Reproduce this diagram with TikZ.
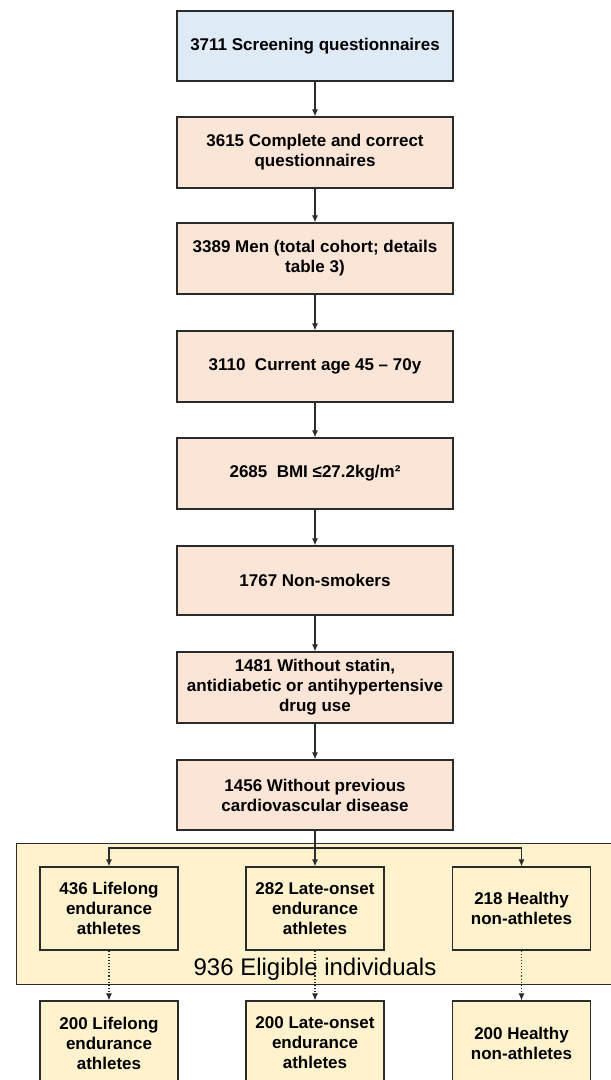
\documentclass[tikz,border=0pt]{standalone}
\usepackage{fontspec}
\setmainfont{Liberation Sans}
\usetikzlibrary{arrows.meta}
\definecolor{bluefill}{HTML}{DEEBF7}
\definecolor{peachfill}{HTML}{FBE5D6}
\definecolor{yellowfill}{HTML}{FFF2CC}
\definecolor{edge}{HTML}{2B2B2B}
\tikzset{
  box/.style={draw=edge, line width=1.2pt, align=center, inner sep=0pt,
    font=\fontsize{17}{20}\selectfont\bfseries, text=black},
  mainbox/.style={box, minimum width=276pt, fill=peachfill},
  smallbox/.style={box, minimum width=138pt, minimum height=83pt, fill=yellowfill},
  arr/.style={draw=edge, line width=1.1pt, -{Latex[length=7pt,width=6pt]}},
  dotarr/.style={draw=edge, line width=1.1pt, dotted, -{Latex[length=7pt,width=6pt]}},
  plain/.style={draw=edge, line width=1.1pt}
}
\begin{document}
\begin{tikzpicture}[x=1pt,y=-1pt]
\useasboundingbox (0,0) rectangle (611,1080);
\clip (0,0) rectangle (611,1080);
\fill[white] (0,0) rectangle (611,1080);
% group background
\node[draw=edge, line width=1.2pt, fill=yellowfill, minimum width=600pt, minimum height=141pt, anchor=north west, inner sep=0pt] (grp) at (16,843) {};
\node[font=\fontsize{24}{28}\selectfont, anchor=base, inner sep=0pt] (elig) at (315,975) {936 Eligible individuals};
% main chain
\node[mainbox, fill=bluefill, minimum height=70pt] (b1) at (315,46) {3711 Screening questionnaires};
\node[mainbox, minimum height=71pt] (b2) at (315,152.5) {3615 Complete and correct\\questionnaires};
\node[mainbox, minimum height=71pt] (b3) at (315,258.5) {3389 Men (total cohort; details\\table 3)};
\node[mainbox, minimum height=71pt] (b4) at (315,366.5) {3110\ \ Current age 45 – 70y};
\node[mainbox, minimum height=71pt] (b5) at (315,473.5) {2685\ \ BMI ≤27.2kg/m²};
\node[mainbox, minimum height=69pt] (b6) at (315,580.5) {1767 Non-smokers};
\node[mainbox, minimum height=71pt] (b7) at (315,687.5) {1481 Without statin,\\antidiabetic or antihypertensive\\drug use};
\node[mainbox, minimum height=70pt] (b8) at (315,795) {1456 Without previous\\cardiovascular disease};
% groups
\node[smallbox] (s1) at (109,908.5) {436 Lifelong\\endurance\\athletes};
\node[smallbox] (s2) at (315,908.5) {282 Late-onset\\endurance\\athletes};
\node[smallbox] (s3) at (521.5,908.5) {218 Healthy\\non-athletes};
% selected
\node[smallbox, minimum height=84pt] (t1) at (109,1043) {200 Lifelong\\endurance\\athletes};
\node[smallbox, minimum height=84pt] (t2) at (315,1043) {200 Late-onset\\endurance\\athletes};
\node[smallbox, minimum height=84pt] (t3) at (521.5,1043) {200 Healthy\\non-athletes};
% connectors
\draw[arr] (b1) -- (b2);
\draw[arr] (b2) -- (b3);
\draw[arr] (b3) -- (b4);
\draw[arr] (b4) -- (b5);
\draw[arr] (b5) -- (b6);
\draw[arr] (b6) -- (b7);
\draw[arr] (b7) -- (b8);
\coordinate (j) at (315,848);
\draw[plain] (b8.south) -- (j);
\draw[arr] (j) -| (s1.north);
\draw[arr] (j) -| (s3.north);
\draw[arr] (j) -- (s2.north);
\draw[dotarr] (s1) -- (t1);
\draw[dotarr] (s2) -- (t2);
\draw[dotarr] (s3) -- (t3);
\end{tikzpicture}
\end{document}
